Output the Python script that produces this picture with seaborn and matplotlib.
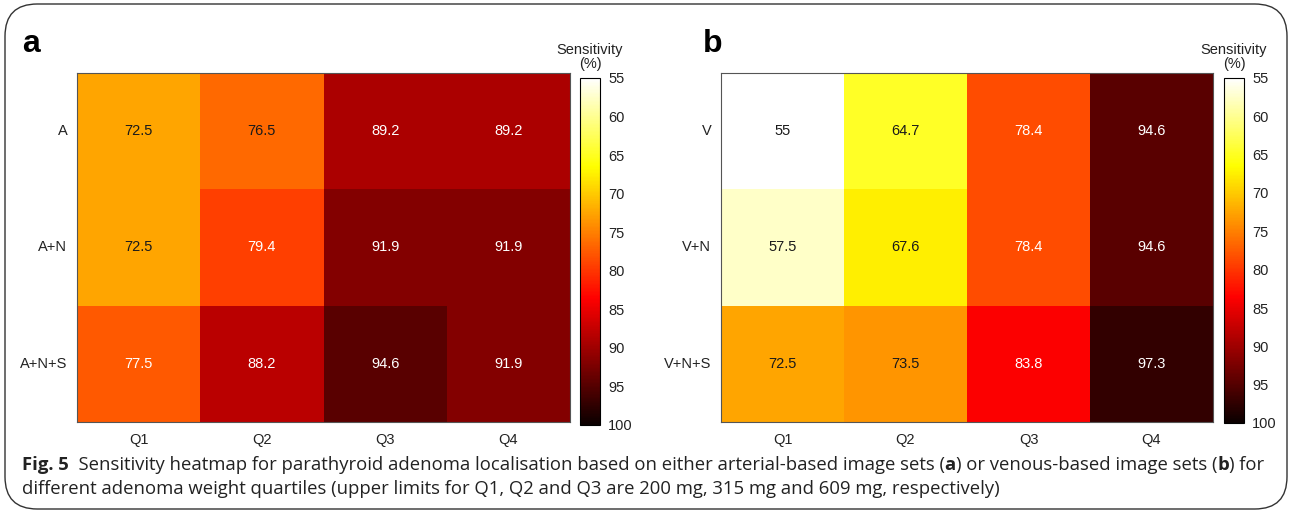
import numpy as np
import pandas as pd
import matplotlib
matplotlib.use("Agg")
import matplotlib.pyplot as plt
import seaborn as sns
from matplotlib.patches import FancyBboxPatch

# data
quartiles = ["Q1", "Q2", "Q3", "Q4"]
rows_a = ["A", "A+N", "A+N+S"]
rows_b = ["V", "V+N", "V+N+S"]
sens_a = [[72.5, 76.5, 89.2, 89.2],
          [72.5, 79.4, 91.9, 91.9],
          [77.5, 88.2, 94.6, 91.9]]
sens_b = [[55.0, 64.7, 78.4, 94.6],
          [57.5, 67.6, 78.4, 94.6],
          [72.5, 73.5, 83.8, 97.3]]
cbar_ticks = [55, 60, 65, 70, 75, 80, 85, 90, 95, 100]

caption_1 = [("Fig. 5", True),
             ("  Sensitivity heatmap for parathyroid adenoma localisation based on either "
              "arterial-based image sets (", False),
             ("a", True),
             (") or venous-based image sets (", False),
             ("b", True),
             (") for", False)]
caption_2 = [("different adenoma weight quartiles (upper limits for Q1, Q2 and Q3 are "
              "200 mg, 315 mg and 609 mg, respectively)", False)]

sns.set_style("white")
plt.rcParams["font.family"] = ["Liberation Sans", "DejaVu Sans"]

W, H = 1290, 514
fig = plt.figure(figsize=(W / 100, H / 100), dpi=100)


def box(x0, y0, x1, y1):
    # pixel box (top-left origin) -> figure fraction rect
    return [x0 / W, 1 - y1 / H, (x1 - x0) / W, (y1 - y0) / H]


def fmt(v):
    return f"{v:g}"


def panel(values, rows, hm_rect, cb_rect, letter, letter_x):
    df = pd.DataFrame(values, index=rows, columns=quartiles)
    labels = df.map(fmt)
    ax = fig.add_axes(hm_rect)
    cax = fig.add_axes(cb_rect)
    sns.heatmap(df, ax=ax, cmap="hot_r", vmin=55, vmax=100,
                annot=labels, fmt="", cbar_ax=cax,
                annot_kws={"fontsize": 10.5})
    flat = np.array(values).ravel()
    for t, v in zip(ax.texts, flat):
        t.set_color("white" if v >= 77 else "#1a1a1a")
    for s in ax.spines.values():
        s.set_visible(True)
        s.set_color("#555555")
        s.set_linewidth(0.8)
    ax.tick_params(length=0, labelsize=10.5, colors="#222222")
    ax.tick_params(axis="x", pad=8)
    ax.tick_params(axis="y", pad=7)
    ax.set_yticklabels(rows, rotation=0)
    ax.set_xlabel("")
    ax.set_ylabel("")

    cax.invert_yaxis()
    cax.set_yticks(cbar_ticks)
    cax.yaxis.set_ticks_position("both")
    cax.tick_params(left=True, right=False, labelleft=False, labelright=True,
                    direction="in", length=3, width=0.6, labelsize=10.5,
                    colors="#222222", pad=6)
    cbar = ax.collections[0].colorbar
    cbar.outline.set_visible(True)
    cbar.outline.set_edgecolor("black")
    cbar.outline.set_linewidth(0.8)
    cax.set_title("Sensitivity\n(%)", fontsize=10.5, color="#222222",
                  pad=7, linespacing=1.0)

    fig.text(letter_x / W, 1 - 52 / H, letter, fontsize=23,
             fontweight="bold", color="black")


panel(sens_a, rows_a, box(77, 73, 570, 422), box(580, 78, 600, 425), "a", 22)
panel(sens_b, rows_b, box(721, 73, 1213, 422), box(1224, 78, 1244, 423), "b", 703)

# rounded frame around the whole figure
frame = FancyBboxPatch((5 / W, 5 / H), (W - 8) / W, (H - 9) / H,
                       boxstyle="round,pad=0,rounding_size=0.025",
                       transform=fig.transFigure, fill=False,
                       edgecolor="#333333", linewidth=1.0,
                       mutation_aspect=W / H)
fig.patches.append(frame)

# caption with bold pieces
renderer = fig.canvas.get_renderer()
cap_font = ["Open Sans", "DejaVu Sans"]


def caption_line(segments, x_px, y_px, size):
    x = x_px
    made = []
    for txt, bold in segments:
        t = fig.text(x / W, 1 - y_px / H, txt, fontsize=size,
                     fontweight="bold" if bold else "normal",
                     family=cap_font, color="#222222", va="baseline")
        made.append(t)
        x += t.get_window_extent(renderer).width
    return made, x - x_px


# size the first caption line so it spans the same width as in the figure
trial, width = caption_line(caption_1, 22, 470, 10)
for t in trial:
    t.remove()
cap_size = 10 * 1240 / width
caption_line(caption_1, 22, 470, cap_size)
caption_line(caption_2, 22, 494, cap_size)

fig.savefig("out.png", dpi=100)
